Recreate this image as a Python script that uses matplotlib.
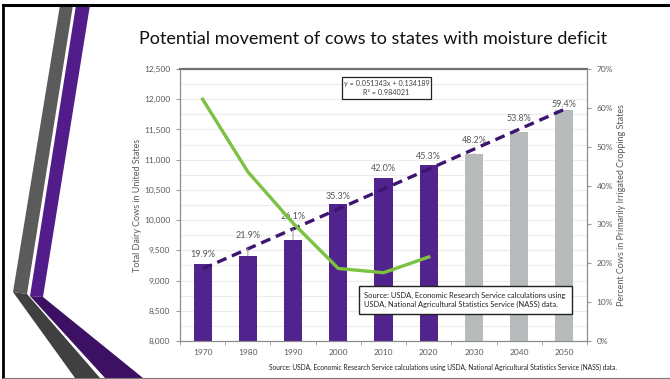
import numpy as np
import matplotlib.pyplot as plt
from matplotlib.patches import Polygon, Rectangle

plt.rcParams['font.family'] = ['Lato', 'DejaVu Sans']

# data
years = ['1970', '1980', '1990', '2000', '2010', '2020', '2030', '2040', '2050']
pct_irrigated = [19.9, 21.9, 26.1, 35.3, 42.0, 45.3, 48.2, 53.8, 59.4]
projected = [False, False, False, False, False, False, True, True, True]
total_cows = [12000, 10800, 9950, 9200, 9130, 9390]
label_lift = [9, 20, 23, 7, 9, 8, 13, 13, 6]      # px above bar top
leader = [False, True, True, False, False, False, True, False, False]
trend_text = 'y = 0.051343x + 0.134189\nR² = 0.984021'
source_text = ('Source: USDA, Economic Research Service calculations using '
               'USDA, National Agricultural Statistics Service (NASS) data.')

W, H = 670, 379
def fx(x):
    return x / W
def fy(y):
    return 1 - y / H

fig = plt.figure(figsize=(6.7, 3.79), dpi=100)

# slide decoration on the left
deco = [
    ([(60, 5), (73, 5), (27, 294), (13, 292)], '#5b5b5b'),
    ([(76, 5), (90, 5), (43, 297), (30, 296)], '#521c8a'),
    ([(13, 292), (27, 294), (100, 378), (75, 378)], '#404040'),
    ([(30, 296), (43, 297), (143, 378), (105, 378)], '#3c1163'),
]
for pts, c in deco:
    fig.patches.append(Polygon([(fx(a), fy(b)) for a, b in pts], closed=True,
                               transform=fig.transFigure, facecolor=c,
                               edgecolor='none', zorder=0))
fig.add_artist(plt.Line2D([fx(3), 1], [fy(5), fy(5)], color='black', lw=2.2,
                          transform=fig.transFigure))
fig.add_artist(plt.Line2D([fx(3), fx(3)], [fy(5), fy(377)], color='black', lw=2.0,
                          transform=fig.transFigure))
fig.add_artist(plt.Line2D([fx(3), 1], [fy(377.5), fy(377.5)], color='#777777', lw=0.8,
                          transform=fig.transFigure))

fig.text(fx(373), fy(39), 'Potential movement of cows to states with moisture deficit',
         ha='center', va='center', fontsize=13, color='#111111')

left, right, top, bottom = 180, 587, 69, 341
pos = [fx(left), fy(bottom), (right - left) / W, (bottom - top) / H]
ax = fig.add_axes(pos)
x = np.arange(len(years))

# left axis: cows
ax.set_ylim(8000, 12500)
ax.set_yticks(np.arange(8000, 12501, 500))
ax.set_yticklabels([f'{v:,}' for v in range(8000, 12501, 500)])
ax.set_yticks(np.arange(8000, 12501, 250), minor=True)
ax.grid(axis='y', which='both', color='#ececec', lw=0.8)
ax.set_axisbelow(True)
ax.set_xlim(-0.5, len(years) - 0.5)
ax.set_xticks(x)
ax.set_xticklabels(years)
ax.set_xticks(np.arange(-0.5, len(years)), minor=True)
ax.tick_params(axis='x', which='major', length=0, labelsize=6, colors='#595959', pad=6)
ax.tick_params(axis='x', which='minor', length=3, color='#999999')
ax.tick_params(axis='y', which='major', length=3, labelsize=6, colors='#595959',
               color='#999999', pad=4)
ax.tick_params(axis='y', which='minor', length=0)
ax.set_ylabel('Total Dairy Cows in United States', fontsize=6.5, color='#595959')
ax.yaxis.set_label_coords(-0.093, 0.5)
for s in ['left', 'bottom', 'right']:
    ax.spines[s].set_color('#8c8c8c')
ax.spines['top'].set_color('#707070')
ax.spines['top'].set_linewidth(1.6)

# right axis: percent in irrigated states
ax2 = ax.twinx()
ax2.set_ylim(0, 70)
ax2.set_yticks(np.arange(0, 71, 10))
ax2.set_yticklabels([f'{v}%' for v in range(0, 71, 10)])
ax2.tick_params(axis='y', length=3, labelsize=6, colors='#595959', color='#999999', pad=4)
ax2.set_ylabel('Percent Cows in Primarily Irrigated Cropping States', fontsize=6.5,
               color='#595959')
ax2.yaxis.set_label_coords(1.074, 0.5)
for s in ['left', 'bottom', 'right']:
    ax2.spines[s].set_color('#8c8c8c')
ax2.spines['top'].set_visible(False)

colors = ['#b7bbbb' if p else '#51238c' for p in projected]
ax2.bar(x, pct_irrigated, width=0.4, color=colors, zorder=2)

# linear trend
k, b = np.polyfit(x + 1, pct_irrigated, 1)
ax2.plot(x, k * (x + 1) + b, color='#3d1470', lw=2.4, ls=(0, (3, 1.8)), zorder=3)

for xi, v, lift, ld in zip(x, pct_irrigated, label_lift, leader):
    ax2.annotate(f'{v:.1f}%', (xi, v), xytext=(0, lift), textcoords='offset pixels',
                 ha='center', va='center', fontsize=6.5, color='#595959',
                 arrowprops=dict(arrowstyle='-', color='#a6a6a6', lw=0.8,
                                 shrinkA=4, shrinkB=0) if ld else None,
                 zorder=4)

# green line on top of bars, using the left scale
ax3 = ax.twinx()
ax3.set_ylim(ax.get_ylim())
ax3.axis('off')
ax3.plot(x[:len(total_cows)], total_cows, color='#7cc242', lw=2.4, zorder=5)

# trendline equation box
fig.patches.append(Rectangle((fx(342), fy(99)), (431 - 342) / W, (99 - 77) / H,
                             transform=fig.transFigure, facecolor='white',
                             edgecolor='#222222', lw=0.9, zorder=10))
fig.text(fx(386.5), fy(88), trend_text,
         ha='center', va='center', fontsize=5.2, color='#404040', linespacing=1.2,
         zorder=11)

# source box inside plot
fig.patches.append(Rectangle((fx(359), fy(314)), (572 - 359) / W, (314 - 286) / H,
                             transform=fig.transFigure, facecolor='white',
                             edgecolor='#222222', lw=1.0, zorder=10))
fig.text(fx(364), fy(300), source_text.replace('using USDA', 'using\nUSDA'),
         ha='left', va='center', fontsize=5.4, color='#222222', linespacing=1.35,
         zorder=11)

fig.text(fx(443), fy(367), source_text,
         ha='center', va='center', fontsize=4.8, color='#222222')

fig.savefig('out.png', dpi=100)
